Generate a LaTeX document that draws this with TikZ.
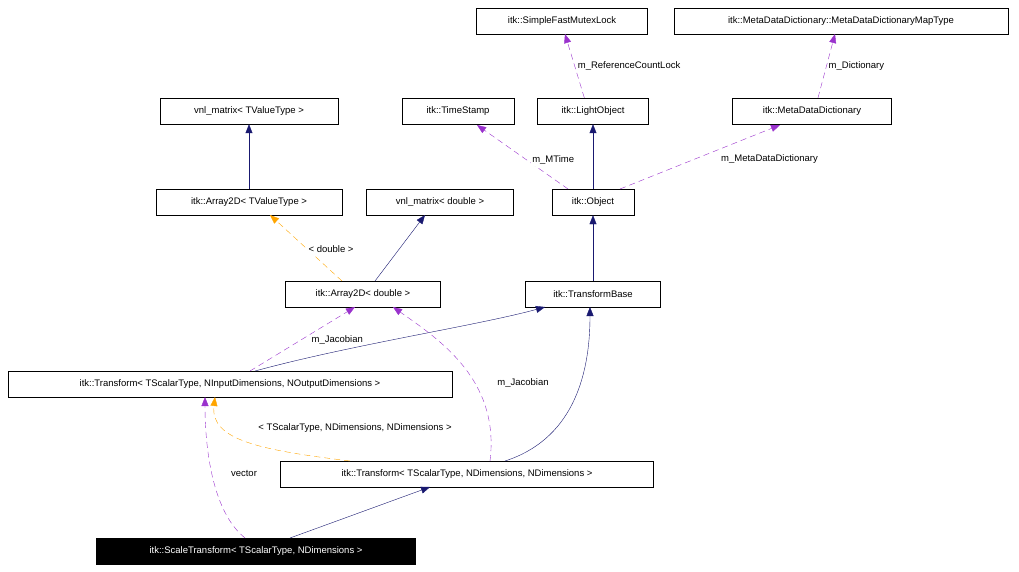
\documentclass[tikz,border=0pt]{standalone}
\usepackage{fontspec}
\setmainfont{Liberation Sans}
\usetikzlibrary{arrows.meta}
\definecolor{nav}{RGB}{25,25,112}
\definecolor{pur}{RGB}{154,50,205}
\definecolor{ora}{RGB}{255,165,0}
\begin{document}
\begin{tikzpicture}[x=1pt,y=-1pt,
 box/.style={draw,fill=white,inner sep=0pt,minimum height=26pt,font=\fontsize{9.5}{11}\selectfont},
 inh/.style={draw=nav,-{Triangle[length=9pt,width=7pt,fill=nav]}},
 use/.style={draw=pur,dash pattern=on 6pt off 4pt,-{Triangle[length=9pt,width=7pt,fill=pur]}},
 tmpl/.style={draw=ora,dash pattern=on 6pt off 4pt,-{Triangle[length=9pt,width=7pt,fill=ora]}},
 lab/.style={font=\fontsize{9.5}{11}\selectfont,fill=white,inner sep=1pt}]
\useasboundingbox (0,0) rectangle (1019,572);
\node[box,minimum width=171pt] (mutex) at (562,21) {itk::SimpleFastMutexLock};
\node[box,minimum width=334pt] (map) at (841,21) {itk::MetaDataDictionary::MetaDataDictionaryMapType};
\node[box,minimum width=178pt] (vnlT) at (249,111) {vnl\_matrix< TValueType >};
\node[box,minimum width=112pt] (ts) at (458,111) {itk::TimeStamp};
\node[box,minimum width=111pt] (lo) at (593,111) {itk::LightObject};
\node[box,minimum width=159pt] (mdd) at (812,111) {itk::MetaDataDictionary};
\node[box,minimum width=186pt] (arrT) at (249,202) {itk::Array2D< TValueType >};
\node[box,minimum width=147pt] (vnlD) at (440,202) {vnl\_matrix< double >};
\node[box,minimum width=82pt] (obj) at (593,202) {itk::Object};
\node[box,minimum width=155pt] (arrD) at (363,294) {itk::Array2D< double >};
\node[box,minimum width=135pt] (tb) at (593,294) {itk::TransformBase};
\node[box,minimum width=444pt] (tio) at (230,384) {itk::Transform< TScalarType, NInputDimensions, NOutputDimensions >};
\node[box,minimum width=373pt] (tnn) at (467,474) {itk::Transform< TScalarType, NDimensions, NDimensions >};
\node[box,minimum width=319pt,fill=black,text=white] (sc) at (256,551) {itk::ScaleTransform< TScalarType, NDimensions >};

\draw[use] (lo.north west)++(47,0) -- node[lab,right,xshift=2pt]{m\_ReferenceCountLock} (565,34);
\draw[use] (mdd.north) ++(6,0) -- node[lab,right,xshift=1pt]{m\_Dictionary} (835,34);
\draw[inh] (arrT) -- (vnlT);
\draw[inh] (obj) -- (lo);
\draw[use] (568,189) -- node[lab,pos=0.45,right,xshift=4pt]{m\_MTime} (477,125);
\draw[use] (620,189) -- node[lab,pos=0.5,right,xshift=20pt,yshift=-2pt]{m\_MetaDataDictionary} (780,125);
\draw[tmpl] (342,281) -- node[lab,pos=0.48,right]{< double >} (270,215);
\draw[inh] (375,281) -- (425,215);
\draw[inh] (tb) -- (obj);
\draw[inh] (255,371) .. controls (350,345) and (480,325) .. (545,307);
\draw[use] (250,371) -- node[lab,pos=0.5,right,xshift=8pt,yshift=-1pt]{m\_Jacobian} (355,307);
\draw[inh] (505,461) .. controls (570,440) and (590,380) .. (590,307);
\draw[use] (490,461) .. controls (500,380) and (440,340) .. (393,307);
\node[lab] at (523,383) {m\_Jacobian};
\draw[tmpl] (350,461) .. controls (260,450) and (210,440) .. (215,397);
\node[lab] at (355,428) {< TScalarType, NDimensions, NDimensions >};
\draw[inh] (290,538) -- (430,487);
\draw[use] (245,538) .. controls (210,510) and (205,440) .. (205,397);
\node[lab] at (244,473) {vector};
\end{tikzpicture}
\end{document}
